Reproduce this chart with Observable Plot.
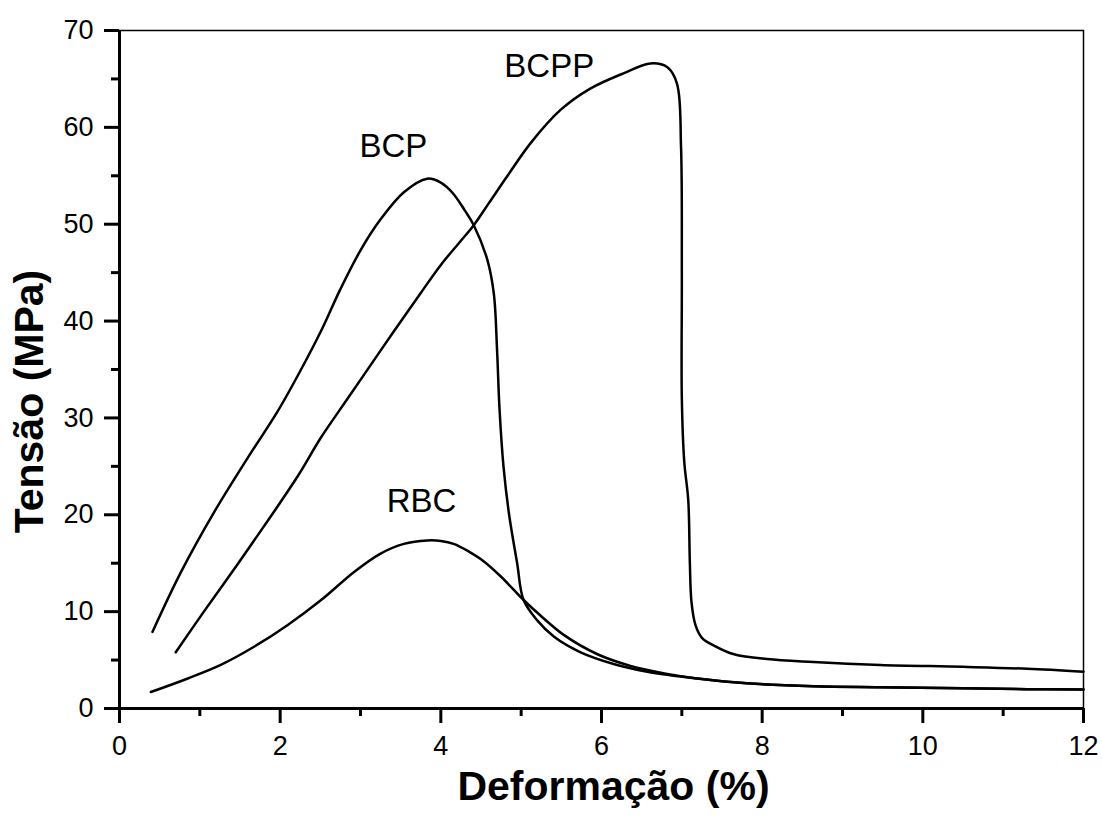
<!DOCTYPE html>
<html>
<head>
<meta charset="utf-8">
<script src="https://cdn.jsdelivr.net/npm/d3@7"></script>
<script src="https://cdn.jsdelivr.net/npm/@observablehq/plot@0.6"></script>
<style>
  html, body { margin: 0; padding: 0; background: #fff; }
  #chart svg { display: block; }
</style>
</head>
<body>
<div id="chart"></div>
<script>
// ---- Data ----
const bcpX = [0.41, 0.76, 1.18, 1.59, 1.97, 2.26, 2.51, 2.75, 3.00, 3.25, 3.54, 3.83, 4.00, 4.15, 4.30, 4.41, 4.58, 4.66, 4.70, 4.73, 4.78, 4.85, 4.95, 5.03, 5.20, 5.41, 5.74, 6.15, 6.57, 7.19, 7.81, 8.64, 9.47, 10.5, 11.3, 12.0];
const bcpY = [7.9, 14.0, 20.3, 25.8, 30.7, 35.0, 39.0, 43.3, 47.3, 50.5, 53.3, 54.7, 54.3, 53.2, 51.4, 49.9, 46.3, 42.8, 37.0, 31.0, 25.0, 20.0, 15.0, 11.2, 9.1, 7.4, 5.8, 4.6, 3.8, 3.1, 2.6, 2.3, 2.2, 2.1, 2.0, 1.95];

const bcppX = [0.70, 1.05, 1.47, 1.88, 2.22, 2.51, 2.84, 3.13, 3.42, 3.75, 4.00, 4.25, 4.41, 4.60, 4.83, 5.12, 5.49, 5.86, 6.28, 6.61, 6.82, 6.94, 6.99, 7.00, 7.00, 7.03, 7.08, 7.10, 7.12, 7.17, 7.25, 7.40, 7.65, 8.06, 8.64, 9.47, 10.5, 11.3, 12.0];
const bcppY = [5.8, 10.0, 14.9, 19.8, 24.0, 28.0, 32.0, 35.5, 39.0, 42.9, 45.8, 48.3, 49.9, 52.2, 55.0, 58.4, 61.8, 64.0, 65.6, 66.6, 66.2, 64.5, 58.0, 45.0, 32.0, 25.5, 21.5, 15.0, 11.0, 8.6, 7.3, 6.5, 5.6, 5.1, 4.8, 4.5, 4.3, 4.1, 3.8];

const rbcX = [0.39, 0.85, 1.26, 1.68, 2.09, 2.51, 2.92, 3.25, 3.54, 3.83, 4.00, 4.16, 4.35, 4.50, 4.75, 5.03, 5.24, 5.53, 5.95, 6.36, 6.80, 7.19, 7.81, 8.64, 9.47, 10.5, 11.3, 12.0];
const rbcY = [1.7, 3.1, 4.5, 6.4, 8.6, 11.2, 14.1, 16.0, 17.0, 17.35, 17.3, 17.0, 16.2, 15.4, 13.6, 11.2, 9.6, 7.6, 5.6, 4.4, 3.6, 3.1, 2.6, 2.3, 2.2, 2.1, 2.0, 1.95];

const labelText = ["BCP", "BCPP", "RBC"];
const labelX = [3.41, 5.35, 3.76];
const labelY = [58.0, 66.3, 21.4];

const xMajor = [0, 2, 4, 6, 8, 10, 12];
const xMinor = [1, 3, 5, 7, 9, 11];
const yMajor = [0, 10, 20, 30, 40, 50, 60, 70];
const yMinor = [5, 15, 25, 35, 45, 55, 65];

const xTitle = "Deformação (%)";
const yTitle = "Tensão (MPa)";

// ---- Build table for the library ----
const rows = [];
function addSeries(name, xs, ys) {
  xs.forEach((x, i) => rows.push({series: name, x, y: ys[i]}));
}
addSeries("BCP", bcpX, bcpY);
addSeries("BCPP", bcppX, bcppY);
addSeries("RBC", rbcX, rbcY);

const chart = Plot.plot({
  width: 1102,
  height: 817,
  marginLeft: 119,
  marginRight: 19,
  marginTop: 30,
  marginBottom: 109,
  style: {fontFamily: "'Liberation Sans', Arial, Helvetica, sans-serif", fontSize: "27px", color: "#000", background: "#fff"},
  x: {domain: [0, 12]},
  y: {domain: [0, 70]},
  marks: [
    Plot.frame({stroke: "#000", strokeWidth: 1.5}),
    Plot.axisY(yMajor, {tickSize: 15, tickPadding: 11, fontSize: 27, strokeWidth: 3, strokeLinecap: "butt", label: null}),
    Plot.axisY(yMinor, {tickSize: 8, tickFormat: () => "", strokeWidth: 3, strokeLinecap: "butt", label: null}),
    Plot.axisX(xMajor, {tickSize: 15, tickPadding: 12, fontSize: 27, strokeWidth: 3, strokeLinecap: "butt", label: null}),
    Plot.axisX(xMinor, {tickSize: 8, tickFormat: () => "", strokeWidth: 3, strokeLinecap: "butt", label: null}),
    Plot.ruleX([0], {stroke: "#000", strokeWidth: 3}),
    Plot.ruleY([0], {stroke: "#000", strokeWidth: 3}),
    Plot.line(rows, {x: "x", y: "y", z: "series", stroke: "#000", strokeWidth: 2.5, curve: "catmull-rom"}),
    Plot.text(labelText, {x: (d, i) => labelX[i], y: (d, i) => labelY[i], text: d => d, fontSize: 33, fill: "#000"}),
    Plot.text([xTitle], {frameAnchor: "bottom", lineAnchor: "middle", textAnchor: "middle", dy: 78, dx: 12, fontSize: 41, fontWeight: "bold", fill: "#000"}),
    Plot.text([yTitle], {frameAnchor: "left", lineAnchor: "middle", textAnchor: "middle", rotate: -90, dx: -90, dy: 32, fontSize: 41, fontWeight: "bold", fill: "#000"})
  ]
});
// make the axis tick strokes heavy like the reference
d3.select(chart).selectAll('g[aria-label$="tick"]').attr("stroke-width", 3);
d3.select(chart).selectAll('g[aria-label$="tick"] path').attr("stroke-width", 3);
document.getElementById("chart").appendChild(chart);
</script>
</body>
</html>
